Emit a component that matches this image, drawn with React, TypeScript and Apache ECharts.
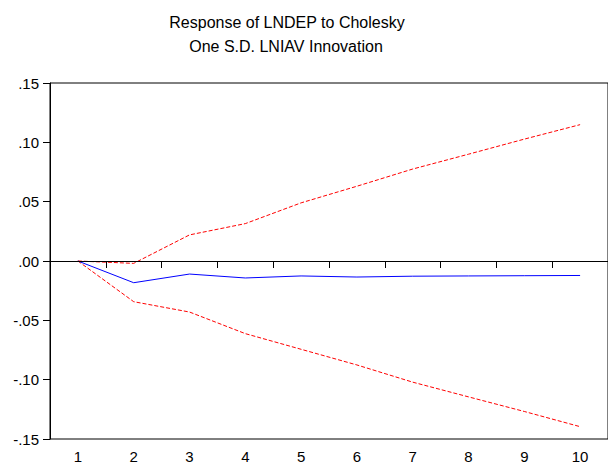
import React, { useEffect, useRef } from "react";
import * as echarts from "echarts";

const periods = ["1", "2", "3", "4", "5", "6", "7", "8", "9", "10"];
const response = [0, -0.0183, -0.011, -0.0143, -0.0126, -0.0135, -0.0128, -0.0126, -0.0124, -0.0122];
const upperBand = [0, -0.002, 0.022, 0.0315, 0.049, 0.063, 0.0775, 0.09, 0.1027, 0.1149];
const lowerBand = [0, -0.0343, -0.043, -0.0612, -0.0744, -0.0876, -0.1021, -0.1145, -0.1268, -0.1396];
const titleLines = ["Response of LNDEP to Cholesky", "One S.D. LNIAV Innovation"];

const FONT = "'Liberation Sans', Arial, sans-serif";

function fmt(v: number): string {
  const s = v.toFixed(2);
  return s.replace("0.", ".");
}

export default function App() {
  const ref = useRef<HTMLDivElement>(null);
  useEffect(() => {
    document.body.style.margin = "0";
    if (!ref.current) return;
    const chart = echarts.init(ref.current, null, { renderer: "svg" });
    chart.setOption({
      animation: false,
      backgroundColor: "#fff",
      textStyle: { fontFamily: FONT },
      graphic: [
        {
          type: "text",
          x: 287,
          y: 22.5,
          style: {
            text: titleLines[0],
            fontFamily: FONT,
            fontSize: 16,
            fill: "#000",
            textAlign: "center",
            textVerticalAlign: "middle",
          },
        },
        {
          type: "text",
          x: 286,
          y: 46,
          style: {
            text: titleLines[1],
            fontFamily: FONT,
            fontSize: 16,
            fill: "#000",
            textAlign: "center",
            textVerticalAlign: "middle",
          },
        },
      ],
      grid: {
        left: 50,
        top: 83,
        width: 567.5,
        height: 356,
        show: true,
        borderColor: "#000",
        borderWidth: 1,
        containLabel: false,
      },
      xAxis: {
        type: "category",
        data: periods,
        boundaryGap: true,
        axisLine: { show: true, lineStyle: { color: "#000", width: 1 } },
        axisTick: { show: true, interval: 0, length: 7, lineStyle: { color: "#000" } },
        axisLabel: { interval: 0, color: "#000", fontFamily: FONT, fontSize: 15, margin: 10 },
        splitLine: { show: false },
      },
      yAxis: {
        type: "value",
        min: -0.15,
        max: 0.15,
        interval: 0.05,
        axisLine: { show: true, lineStyle: { color: "#000", width: 1 } },
        axisTick: { show: true, length: 7, lineStyle: { color: "#000" } },
        axisLabel: { color: "#000", fontFamily: FONT, fontSize: 15, margin: 11, formatter: fmt },
        splitLine: { show: false },
      },
      series: [
        {
          type: "line",
          data: upperBand,
          symbol: "none",
          lineStyle: { color: "#ff0000", width: 1, type: [4, 2] },
          z: 3,
        },
        {
          type: "line",
          data: lowerBand,
          symbol: "none",
          lineStyle: { color: "#ff0000", width: 1, type: [4, 2] },
          z: 3,
        },
        {
          type: "line",
          data: response,
          symbol: "none",
          lineStyle: { color: "#0000ff", width: 1 },
          z: 4,
          markLine: {
            silent: true,
            symbol: ["none", "none"],
            label: { show: false },
            lineStyle: { color: "#000", type: "solid", width: 1 },
            data: [{ yAxis: 0 }],
          },
        },
      ],
    });
    return () => chart.dispose();
  }, []);
  return <div ref={ref} style={{ width: 608, height: 464 }} />;
}
